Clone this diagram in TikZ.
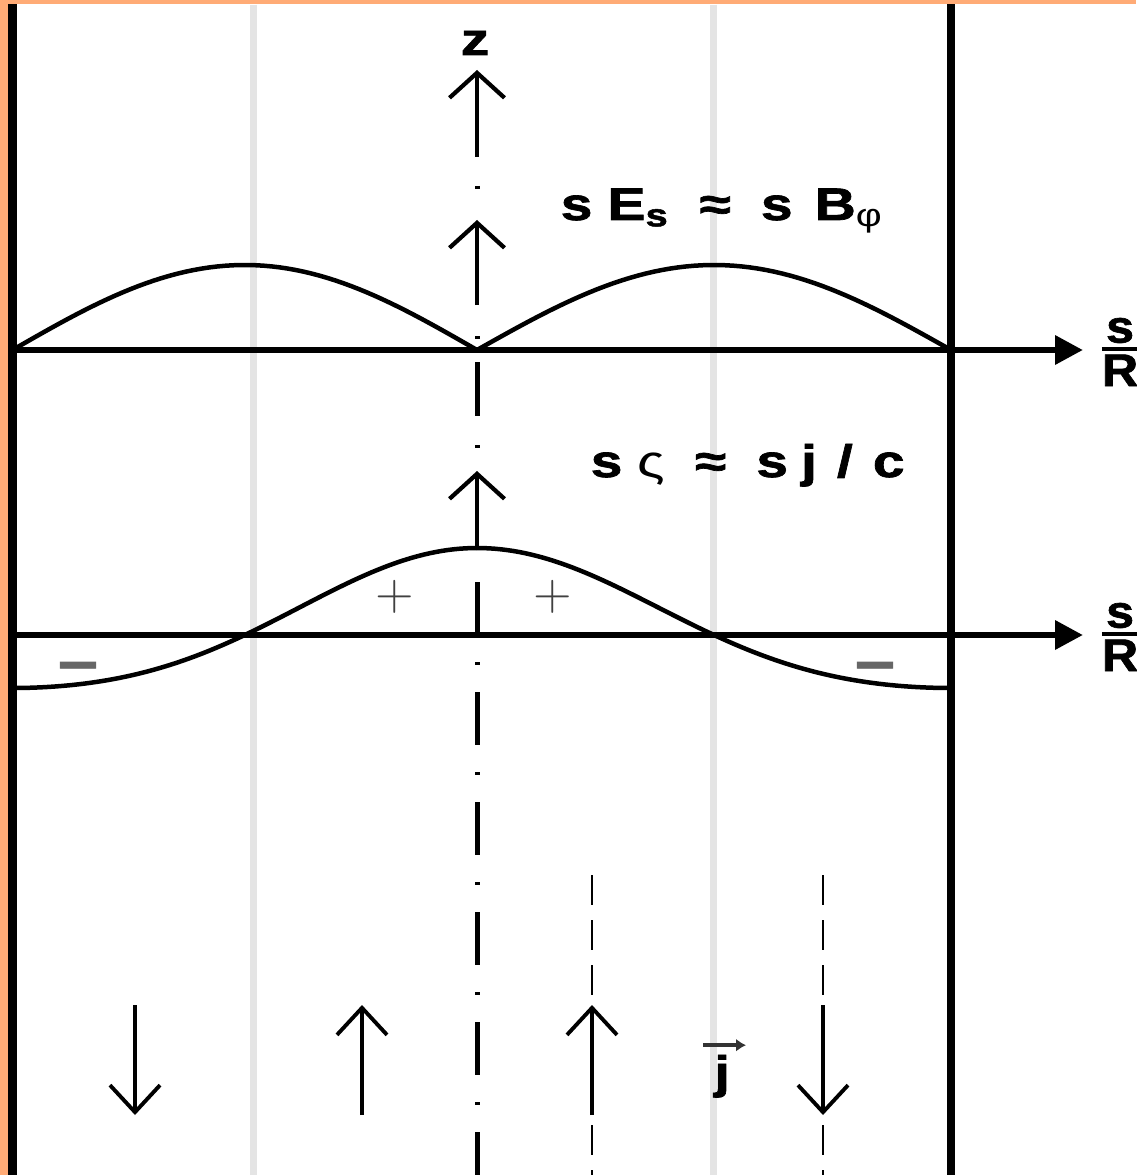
\documentclass[tikz,border=0pt]{standalone}
\usepackage{fontspec}
\setmainfont{Liberation Sans}
\newfontfamily\lblfont{Liberation Sans}[FakeStretch=1.25, BoldFeatures={FakeBold=1.5}]
\newfontfamily\fracfont{Liberation Sans}[FakeStretch=1.1, BoldFeatures={FakeBold=1.5}]
\usetikzlibrary{arrows.meta}
\definecolor{frameorange}{RGB}{255,171,118}
\definecolor{guidegray}{RGB}{228,228,228}

\begin{document}
\begin{tikzpicture}[x=1cm,y=-1cm,
        lbl/.style={inner sep=0pt, font=\lblfont\bfseries\fontsize{13}{15}\selectfont},
        fraclbl/.style={inner sep=0pt, font=\fracfont\bfseries\fontsize{13}{15}\selectfont},
        sign/.style={inner sep=0pt, font=\fontsize{14.4}{16}\selectfont},
        minus/.style={inner sep=0pt, font=\lblfont\bfseries\fontsize{16}{18}\selectfont},
        wall/.style={line width=0.08cm},
        guide/.style={line width=0.07cm, guidegray},
        axis/.style={line width=0.065cm, -{Triangle[length=0.28cm,width=0.28cm]}},
        curve/.style={line width=0.045cm},
        centre/.style={line width=0.05cm},
        zarrow/.style={line width=1.2pt, -{Straight Barb[length=0.25cm,width=0.55cm]}},
        jarrow/.style={line width=1.1pt, -{Straight Barb[length=0.27cm,width=0.5cm]}},
        jline/.style={line width=0.6pt, dash pattern=on 0.30cm off 0.15cm}]
        \useasboundingbox (0,0) rectangle (11.36,11.75);
        \fill [white] (0,0) rectangle (11.36,11.75);
        \fill [frameorange] (0,0) rectangle (11.36,0.045);
        \fill [frameorange] (0,0) rectangle (0.085,11.75);
        \begin{scope}
            \draw [guide] (2.53,0.05) -- (2.53,11.75);
            \draw [guide] (7.13,0.05) -- (7.13,11.75);
            \draw [wall] (0.125,0.045) -- (0.125,11.75);
            \draw [wall] (9.51,0.045) -- (9.51,11.75);
            % axes
            \draw [axis] (0.125,3.50) -- (10.83,3.50);
            \draw [axis] (0.125,6.35) -- (10.83,6.35);
            \node [fraclbl, anchor=west] (srtop) at (10.97,3.52) {$\hbox{s}\above 1.1pt\hbox{R}$};
            \node [fraclbl, anchor=west] (srbottom) at (10.97,6.37) {$\hbox{s}\above 1.1pt\hbox{R}$};
            % curves
            \draw [curve] plot[domain=0.125:4.77, samples=60] (\x,{3.50-0.85*sin(180*(\x-0.125)/4.645)});
            \draw [curve] plot[domain=4.77:9.51, samples=60] (\x,{3.50-0.85*sin(180*(\x-4.77)/4.74)});
            \draw [curve] plot[domain=0.125:4.77, samples=80] (\x,{6.35-0.70*cos(180*(4.77-\x)/4.645)-0.17*cos(180*(4.77-\x)/4.645)^2});
            \draw [curve] plot[domain=4.77:9.51, samples=80] (\x,{6.35-0.70*cos(180*(\x-4.77)/4.74)-0.17*cos(180*(\x-4.77)/4.74)^2});
            % centre line
            \foreach \d in {1.86,3.36,4.45}
                \draw [centre] (4.77,\d) -- ++(0,0.03);
            \draw [centre] (4.77,3.62) -- (4.77,4.16);
            \draw [centre] (4.77,5.82) -- (4.77,6.35);
            \draw [centre, dash pattern=on 0.03cm off 0.27cm on 0.53cm off 0.27cm] (4.77,6.62) -- (4.77,11.75);
            \draw [zarrow] (4.77,1.57) -- (4.77,0.70);
            \draw [zarrow] (4.77,3.05) -- (4.77,2.20);
            \draw [zarrow] (4.77,5.48) -- (4.77,4.71);
            \node [lbl, anchor=base] (zlabel) at (4.75,0.55) {z};
            \node [lbl, anchor=base west] (fieldlabel) at (5.60,2.20)
                {s\hspace{1.5mm}E\textsubscript{s}\hspace{3mm}≈\hspace{3mm}s\hspace{2.2mm}B\textsubscript{\mdseries φ}};
            \node [lbl, anchor=base west] (chargelabel) at (5.90,4.77)
                {s\hspace{1.5mm}{\mdseries ς}\hspace{3mm}≈\hspace{3mm}s\hspace{1.3mm}j\hspace{2mm}/\hspace{2mm}c};
            % signs
            \node [sign, text=black!75] (plusleft) at (3.95,5.97) {$+$};
            \node [sign, text=black!75] (plusright) at (5.53,5.97) {$+$};
            \node [minus, text=black!60] (minusleft) at (0.78,6.73) {−};
            \node [minus, text=black!60] (minusright) at (8.75,6.73) {−};
            % currents
            \draw [jline] (5.92,8.75) -- (5.92,10.0);
            \draw [jline] (5.92,11.25) -- (5.92,11.75);
            \draw [jline] (8.23,8.75) -- (8.23,10.0);
            \draw [jline] (8.23,11.25) -- (8.23,11.75);
            \draw [jarrow] (1.35,10.05) -- (1.35,11.15);
            \draw [jarrow] (3.62,11.15) -- (3.62,10.05);
            \draw [jarrow] (5.92,11.15) -- (5.92,10.05);
            \draw [jarrow] (8.23,10.05) -- (8.23,11.15);
            \node [lbl, anchor=base] (jlabel) at (7.22,10.88) {j};
            \draw [line width=1pt, black!80, -{Latex[length=0.1cm,width=0.13cm]}]
                ([xshift=-0.19cm,yshift=0.09cm]jlabel.north) -- ++(0.43,0);
        \end{scope}
    \end{tikzpicture}
\end{document}
